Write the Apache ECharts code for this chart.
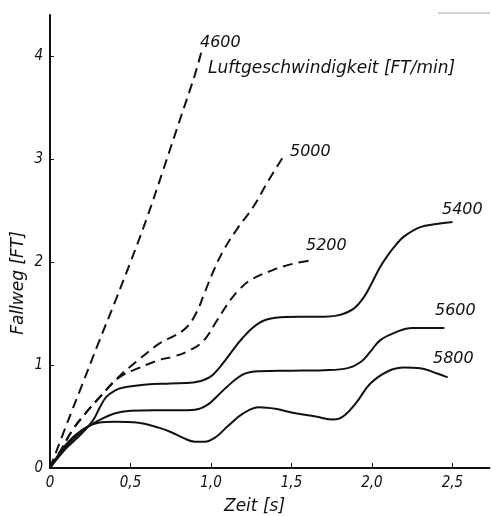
<!DOCTYPE html>
<html>
<head>
<meta charset="utf-8">
<script src="https://cdn.jsdelivr.net/npm/echarts@6/dist/echarts.min.js"></script>
<style>
html,body{margin:0;padding:0;background:#fff;}
#chart{width:492px;height:516px;}
</style>
</head>
<body>
<div id="chart"></div>
<script>
// Axis ticks
const xTicks = [0, 0.5, 1.0, 1.5, 2.0, 2.5];
const yTicks = [0, 1, 2, 3, 4];
// Series names (air speed, FT/min)
const seriesNames = ['4600', '5000', '5200', '5400', '5600', '5800'];
// Series values [time s, fall distance FT]
const s4600 = [[0,0],[0.1,0.41],[0.2,0.81],[0.3,1.21],[0.4,1.6],[0.5,2.0],[0.6,2.42],[0.7,2.88],[0.8,3.35],[0.9,3.82],[0.94,4.04]];
const s5000 = [[0,0],[0.07,0.18],[0.14,0.37],[0.22,0.53],[0.31,0.69],[0.43,0.89],[0.55,1.05],[0.68,1.21],[0.78,1.29],[0.85,1.37],[0.91,1.51],[0.96,1.7],[1.02,1.93],[1.08,2.12],[1.17,2.34],[1.26,2.53],[1.36,2.8],[1.46,3.05]];
const s5200 = [[0,0],[0.07,0.18],[0.14,0.37],[0.22,0.53],[0.31,0.69],[0.43,0.88],[0.55,0.97],[0.68,1.05],[0.76,1.08],[0.85,1.13],[0.95,1.23],[1.04,1.44],[1.12,1.63],[1.18,1.74],[1.25,1.83],[1.38,1.92],[1.5,1.98],[1.63,2.02]];
const s5400 = [[0,0],[0.1,0.19],[0.2,0.34],[0.27,0.47],[0.31,0.59],[0.35,0.69],[0.4,0.75],[0.45,0.78],[0.6,0.81],[0.75,0.82],[0.89,0.83],[0.99,0.88],[1.05,0.97],[1.1,1.07],[1.2,1.27],[1.3,1.41],[1.4,1.46],[1.55,1.47],[1.7,1.47],[1.78,1.48],[1.88,1.54],[1.95,1.66],[2.0,1.8],[2.05,1.95],[2.1,2.07],[2.15,2.17],[2.2,2.25],[2.3,2.34],[2.4,2.37],[2.5,2.39]];
const s5600 = [[0,0],[0.1,0.21],[0.2,0.36],[0.3,0.46],[0.4,0.53],[0.5,0.555],[0.65,0.56],[0.8,0.56],[0.9,0.565],[0.975,0.61],[1.04,0.7],[1.1,0.79],[1.2,0.91],[1.3,0.94],[1.5,0.945],[1.7,0.95],[1.85,0.97],[1.93,1.03],[1.99,1.13],[2.05,1.24],[2.15,1.32],[2.25,1.36],[2.35,1.36],[2.45,1.36]];
const s5800 = [[0,0],[0.1,0.23],[0.2,0.37],[0.3,0.44],[0.4,0.45],[0.55,0.44],[0.68,0.39],[0.75,0.35],[0.83,0.29],[0.9,0.255],[0.96,0.255],[1.03,0.3],[1.1,0.4],[1.2,0.53],[1.3,0.59],[1.4,0.575],[1.5,0.54],[1.65,0.5],[1.76,0.47],[1.82,0.5],[1.9,0.63],[1.99,0.82],[2.1,0.94],[2.2,0.975],[2.3,0.97],[2.4,0.92],[2.47,0.88]];
const seriesData = [s4600, s5000, s5200, s5400, s5600, s5800];
const dashedSeries = [true, true, true, false, false, false];

const INK = '#111';
const FONT = "'DejaVu Sans', sans-serif";
const TICKFONT = "'DejaVu Sans Condensed', 'Liberation Sans Narrow', 'DejaVu Sans', sans-serif";

const chart = echarts.init(document.getElementById('chart'), null, {renderer: 'canvas'});

function isTick(v, list) { return list.some(t => Math.abs(t - v) < 1e-6); }

const option = {
  animation: false,
  backgroundColor: '#fff',
  grid: {left: 50, right: 2.5, top: 15, bottom: 48, containLabel: false},
  xAxis: {
    type: 'value', min: 0, max: 2.73, interval: 0.5,
    axisLine: {show: true, onZero: false, lineStyle: {color: INK, width: 2}},
    axisTick: {show: true, inside: true, length: 5, lineStyle: {color: INK, width: 1}},
    splitLine: {show: false},
    axisLabel: {
      color: INK, fontStyle: 'italic', fontSize: 15, fontFamily: TICKFONT, margin: 8,
      showMaxLabel: false,
      formatter: v => isTick(v, xTicks) ? (v === 0 ? '0' : v.toFixed(1).replace('.', ',')) : ''
    }
  },
  yAxis: {
    type: 'value', min: 0, max: 4.4, interval: 1,
    axisLine: {show: true, onZero: false, lineStyle: {color: INK, width: 2}},
    axisTick: {show: true, inside: true, length: 4, lineStyle: {color: INK, width: 1}},
    splitLine: {show: false},
    axisLabel: {
      color: INK, fontStyle: 'italic', fontSize: 15, fontFamily: TICKFONT, margin: 7,
      showMaxLabel: false,
      formatter: v => isTick(v, yTicks) ? String(v) : ''
    }
  },
  series: seriesData.map((d, i) => ({
    name: seriesNames[i],
    type: 'line',
    data: d,
    smooth: 0.4,
    showSymbol: false,
    silent: true,
    lineStyle: {color: INK, width: 2, type: dashedSeries[i] ? [10, 6] : 'solid'}
  })),
  graphic: [
    {type: 'text', left: 200, top: 35, style: {text: '4600', fill: INK, font: "italic 16px " + FONT}},
    {type: 'text', left: 208, top: 60, style: {text: 'Luftgeschwindigkeit [FT/min]', fill: INK, font: "italic 17px " + FONT}},
    {type: 'text', left: 290, top: 144, style: {text: '5000', fill: INK, font: "italic 16px " + FONT}},
    {type: 'text', left: 306, top: 238, style: {text: '5200', fill: INK, font: "italic 16px " + FONT}},
    {type: 'text', left: 442, top: 202, style: {text: '5400', fill: INK, font: "italic 16px " + FONT}},
    {type: 'text', left: 435, top: 303, style: {text: '5600', fill: INK, font: "italic 16px " + FONT}},
    {type: 'text', left: 433, top: 351, style: {text: '5800', fill: INK, font: "italic 16px " + FONT}},
    {type: 'text', left: 224, top: 498, style: {text: 'Zeit [s]', fill: INK, font: "italic 17px " + FONT}},
    {type: 'text', x: 19, y: 283, rotation: Math.PI / 2,
      style: {text: 'Fallweg [FT]', fill: INK, font: "italic 17px " + FONT, align: 'center', verticalAlign: 'middle'}},
    {type: 'line', shape: {x1: 438, y1: 13, x2: 490, y2: 13}, style: {stroke: '#aaa', lineWidth: 1.2}}
  ]
};
chart.setOption(option);
</script>
</body>
</html>
